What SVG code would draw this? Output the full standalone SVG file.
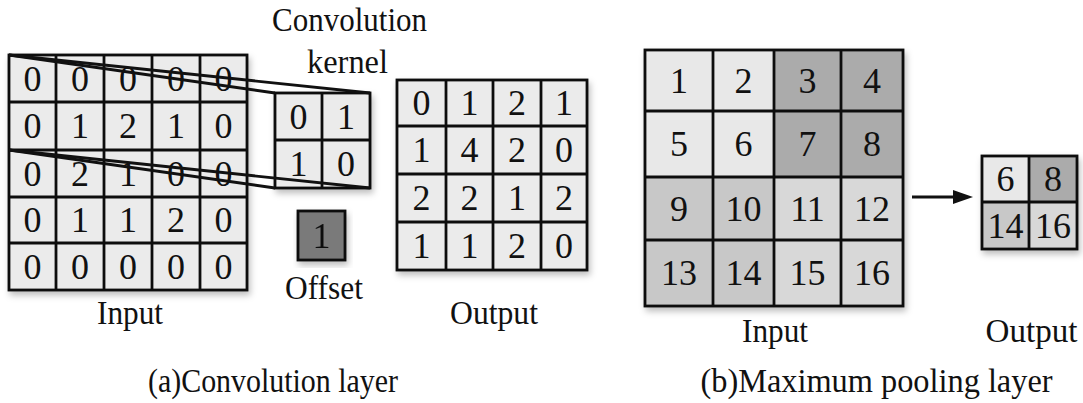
<svg xmlns="http://www.w3.org/2000/svg" width="1083" height="403" viewBox="0 0 1083 403">
  <style>
    .cell { stroke: #111; stroke-width: 2.8; }
    .c0 { fill: #ebebeb; }
    .cA { fill: #e8e8e8; }
    .cB { fill: #ababab; }
    .cC { fill: #c8c8c8; }
    .cD { fill: #d8d8d8; }
    .off { fill: #7a7a7a; }
    text { font-family: "Liberation Serif", "Times New Roman", serif; fill: #111; }
    .n { font-size: 36px; text-anchor: middle; }
    .lbl { font-size: 34px; text-anchor: middle; }
    .proj { stroke: #111; stroke-width: 2.8; fill: none; }
  </style>
  <defs>
    <filter id="shadow" x="-10%" y="-10%" width="125%" height="125%">
      <feDropShadow dx="2" dy="4" stdDeviation="3" flood-color="#000" flood-opacity="0.25"/>
    </filter>
  </defs>
  <rect width="1083" height="403" fill="#fff"/>

  <!-- Convolution: 5x5 input map -->
  <g id="conv-input" filter="url(#shadow)">
    <rect class="c0" x="9" y="55" width="238" height="235"/>
    <g class="cell" fill="none">
      <rect x="9" y="55" width="238" height="235"/>
      <line x1="56" y1="55" x2="56" y2="290"/>
      <line x1="104" y1="55" x2="104" y2="290"/>
      <line x1="152" y1="55" x2="152" y2="290"/>
      <line x1="200" y1="55" x2="200" y2="290"/>
      <line x1="9" y1="102" x2="247" y2="102"/>
      <line x1="9" y1="150" x2="247" y2="150"/>
      <line x1="9" y1="197" x2="247" y2="197"/>
      <line x1="9" y1="243" x2="247" y2="243"/>
    </g>
  </g>
  <g id="conv-input-values" class="n">
    <text x="32.5" y="90.5">0</text><text x="80" y="90.5">0</text><text x="128" y="90.5">0</text><text x="176" y="90.5">0</text><text x="223.5" y="90.5">0</text>
    <text x="32.5" y="138">0</text><text x="80" y="138">1</text><text x="128" y="138">2</text><text x="176" y="138">1</text><text x="223.5" y="138">0</text>
    <text x="32.5" y="185.5">0</text><text x="80" y="185.5">2</text><text x="128" y="185.5">1</text><text x="176" y="185.5">0</text><text x="223.5" y="185.5">0</text>
    <text x="32.5" y="232">0</text><text x="80" y="232">1</text><text x="128" y="232">1</text><text x="176" y="232">2</text><text x="223.5" y="232">0</text>
    <text x="32.5" y="278.5">0</text><text x="80" y="278.5">0</text><text x="128" y="278.5">0</text><text x="176" y="278.5">0</text><text x="223.5" y="278.5">0</text>
  </g>

  <!-- Convolution kernel 2x2 -->
  <g id="kernel" filter="url(#shadow)">
    <rect class="c0" x="275" y="93" width="95" height="95"/>
    <g class="cell" fill="none">
      <rect x="275" y="93" width="95" height="95"/>
      <line x1="322" y1="93" x2="322" y2="188"/>
      <line x1="275" y1="140" x2="370" y2="140"/>
    </g>
  </g>
  <g id="kernel-values" class="n">
    <text x="298.5" y="128.5">0</text><text x="346" y="128.5">1</text>
    <text x="298.5" y="176">1</text><text x="346" y="176">0</text>
  </g>

  <!-- Bias / offset -->
  <g id="offset" filter="url(#shadow)">
    <rect class="cell off" x="298" y="211" width="47" height="49"/>
    <text class="n" x="321.5" y="247.5">1</text>
  </g>

  <!-- Convolution output 4x4 -->
  <g id="conv-output" filter="url(#shadow)">
    <rect class="c0" x="397" y="80" width="190" height="190"/>
    <g class="cell" fill="none">
      <rect x="397" y="80" width="190" height="190"/>
      <line x1="446" y1="80" x2="446" y2="270"/>
      <line x1="493" y1="80" x2="493" y2="270"/>
      <line x1="541" y1="80" x2="541" y2="270"/>
      <line x1="397" y1="126" x2="587" y2="126"/>
      <line x1="397" y1="174" x2="587" y2="174"/>
      <line x1="397" y1="222" x2="587" y2="222"/>
    </g>
  </g>
  <g id="conv-output-values" class="n">
    <text x="421.5" y="115">0</text><text x="469.5" y="115">1</text><text x="517" y="115">2</text><text x="564" y="115">1</text>
    <text x="421.5" y="162">1</text><text x="469.5" y="162">4</text><text x="517" y="162">2</text><text x="564" y="162">0</text>
    <text x="421.5" y="210">2</text><text x="469.5" y="210">2</text><text x="517" y="210">1</text><text x="564" y="210">2</text>
    <text x="421.5" y="258">1</text><text x="469.5" y="258">1</text><text x="517" y="258">2</text><text x="564" y="258">0</text>
  </g>

  <!-- Max pooling input 4x4 -->
  <g id="pool-input" filter="url(#shadow)">
    <rect class="cA" x="645" y="50" width="129" height="127"/>
    <rect class="cB" x="774" y="50" width="129" height="127"/>
    <rect class="cC" x="645" y="177" width="129" height="129"/>
    <rect class="cD" x="774" y="177" width="129" height="129"/>
    <g class="cell" fill="none">
      <rect x="645" y="50" width="258" height="256"/>
      <line x1="713" y1="50" x2="713" y2="306"/>
      <line x1="774" y1="50" x2="774" y2="306"/>
      <line x1="841" y1="50" x2="841" y2="306"/>
      <line x1="645" y1="111" x2="903" y2="111"/>
      <line x1="645" y1="177" x2="903" y2="177"/>
      <line x1="645" y1="240" x2="903" y2="240"/>
    </g>
  </g>
  <g id="pool-input-values" class="n">
    <text x="679" y="92.5">1</text><text x="743.5" y="92.5">2</text><text x="807.5" y="92.5">3</text><text x="872" y="92.5">4</text>
    <text x="679" y="156">5</text><text x="743.5" y="156">6</text><text x="807.5" y="156">7</text><text x="872" y="156">8</text>
    <text x="679" y="220.5">9</text><text x="743.5" y="220.5">10</text><text x="807.5" y="220.5">11</text><text x="872" y="220.5">12</text>
    <text x="679" y="285">13</text><text x="743.5" y="285">14</text><text x="807.5" y="285">15</text><text x="872" y="285">16</text>
  </g>

  <!-- Max pooling output 2x2 -->
  <g id="pool-output" filter="url(#shadow)">
    <rect class="cA" x="982" y="156" width="47" height="46"/>
    <rect class="cB" x="1029" y="156" width="48" height="46"/>
    <rect class="cC" x="982" y="202" width="47" height="47"/>
    <rect class="cD" x="1029" y="202" width="48" height="47"/>
    <g class="cell" fill="none">
      <rect x="982" y="156" width="95" height="93"/>
      <line x1="1029" y1="156" x2="1029" y2="249"/>
      <line x1="982" y1="202" x2="1077" y2="202"/>
    </g>
  </g>
  <g id="pool-output-values" class="n">
    <text x="1005.5" y="191">6</text><text x="1053" y="191">8</text>
    <text x="1005.5" y="237.5">14</text><text x="1053" y="237.5">16</text>
  </g>

  <!-- Connectors: receptive-field projection and pooling arrow -->
  <g id="connectors">
    <line class="proj" x1="9" y1="55" x2="275" y2="93"/>
    <line class="proj" x1="9" y1="55" x2="370" y2="93"/>
    <line class="proj" x1="9" y1="150" x2="275" y2="188"/>
    <line class="proj" x1="9" y1="150" x2="370" y2="188"/>
    <line class="proj" x1="912" y1="197" x2="956" y2="197"/>
    <polygon points="953,190 973,197 953,204" fill="#111"/>
  </g>

  <!-- Labels (slightly condensed serif) -->
  <g id="labels" class="lbl">
    <text x="349.5" y="31" textLength="155" lengthAdjust="spacingAndGlyphs">Convolution</text>
    <text x="347.5" y="73" textLength="81" lengthAdjust="spacingAndGlyphs">kernel</text>
    <text x="130" y="324" textLength="66" lengthAdjust="spacingAndGlyphs">Input</text>
    <text x="324" y="299" textLength="78" lengthAdjust="spacingAndGlyphs">Offset</text>
    <text x="494" y="324" textLength="88" lengthAdjust="spacingAndGlyphs">Output</text>
    <text x="775" y="342" textLength="66" lengthAdjust="spacingAndGlyphs">Input</text>
    <text x="1031.5" y="342" textLength="92" lengthAdjust="spacingAndGlyphs">Output</text>
    <text x="273" y="392" textLength="250" lengthAdjust="spacingAndGlyphs">(a)Convolution layer</text>
    <text x="876.5" y="392" textLength="352" lengthAdjust="spacingAndGlyphs">(b)Maximum pooling layer</text>
  </g>
</svg>
